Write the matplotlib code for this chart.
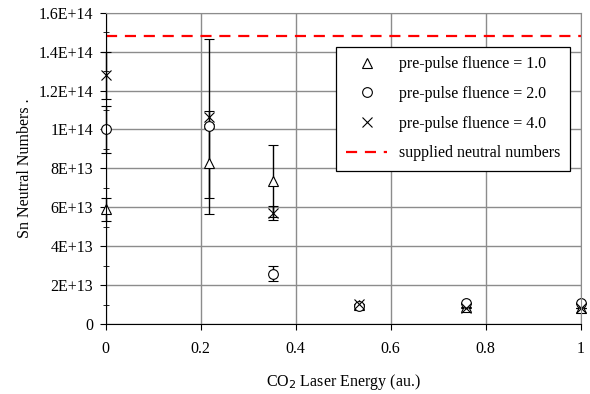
import matplotlib.pyplot as plt
import numpy as np
from matplotlib.ticker import FuncFormatter, MultipleLocator
from matplotlib.lines import Line2D

plt.rcParams['font.family'] = ['Liberation Serif', 'DejaVu Serif']

# laser energy (au.)
energy = [0.0, 0.218, 0.353, 0.533, 0.758, 1.0]

# pre-pulse fluence = 1.0
f1 = [5.9e13, 8.3e13, 7.35e13, 1.0e13, 0.9e13, 0.85e13]
f1_err = [0.6e13, 1.8e13, 1.84e13, 0.0, 0.0, 0.0]
# pre-pulse fluence = 2.0
f2 = [1.0e14, 1.017e14, 2.6e13, 0.94e13, 1.09e13, 1.09e13]
f2_err = [1.2e13, 4.5e13, 0.4e13, 0.0, 0.0, 0.0]
# pre-pulse fluence = 4.0
f4 = [1.279e14, 1.062e14, 5.72e13, 1.04e13, 0.84e13, 0.82e13]
f4_err = [1.2e13, 0.33e13, 0.36e13, 0.0, 0.0, 0.0]

supplied = 1.48e14

fig = plt.figure(figsize=(5.9, 3.94), dpi=100)
ax = fig.add_axes([0.179, 0.177, 0.805, 0.791])

mk = dict(color='black', mfc='white', mec='black', ls='none', ms=7, mew=0.8,
          ecolor='black', elinewidth=1.0, capsize=3.5, capthick=1.0)
series = [(f1, f1_err, '^'), (f2, f2_err, 'o'), (f4, f4_err, 'x')]
for vals, err, m in series:
    art = ax.errorbar(energy, vals, yerr=err, marker=m, **mk)
    for a in art.get_children():
        a.set_clip_on(False)
ax.axhline(supplied, color='red', ls=(0, (5, 3.5)), lw=1.6)

ax.set_xlim(0, 1)
ax.set_ylim(0, 1.6e14)
ax.xaxis.set_major_locator(MultipleLocator(0.2))
ax.yaxis.set_major_locator(MultipleLocator(2e13))
ax.yaxis.set_minor_locator(MultipleLocator(1e13))


def yfmt(v, pos):
    if v == 0:
        return '0'
    s = '%.1E' % v
    m, e = s.split('E')
    if m.endswith('.0'):
        m = m[:-2]
    return m + 'E+' + str(int(e))


ax.yaxis.set_major_formatter(FuncFormatter(yfmt))
ax.xaxis.set_major_formatter(FuncFormatter(lambda v, p: '%g' % round(v, 1)))

ax.grid(True, which='major', color='#8c8c8c', lw=1.0)
ax.set_axisbelow(True)
for s in ['top', 'right']:
    ax.spines[s].set_color('#8c8c8c')
for s in ['left', 'bottom']:
    ax.spines[s].set_color('black')
ax.tick_params(axis='both', which='major', direction='out', length=4, labelsize=11.5, pad=5)
ax.tick_params(axis='y', which='minor', direction='inout', length=5)
ax.tick_params(axis='x', pad=8)

ax.set_xlabel('CO$_2$ Laser Energy (au.)', fontsize=11.5, labelpad=11)
ax.set_ylabel('Sn Neutral Numbers .', fontsize=11.5, labelpad=4)

labels = ['pre-pulse fluence = 1.0', 'pre-pulse fluence = 2.0',
          'pre-pulse fluence = 4.0', 'supplied neutral numbers']
handles = [Line2D([], [], ls='none', marker=m, ms=7, mfc='white', mec='black', mew=0.8)
           for _, _, m in series]
handles.append(Line2D([], [], color='red', ls=(0, (5, 3.5)), lw=1.6))
leg = ax.legend(handles, labels, loc='upper right', bbox_to_anchor=(0.977, 0.89),
                borderaxespad=0, fontsize=11.5, frameon=True, fancybox=False,
                framealpha=1, edgecolor='black', handlelength=2.6, labelspacing=0.85,
                borderpad=0.6, handletextpad=0.7)
leg.get_frame().set_linewidth(0.9)

fig.savefig('out.png', dpi=100)
